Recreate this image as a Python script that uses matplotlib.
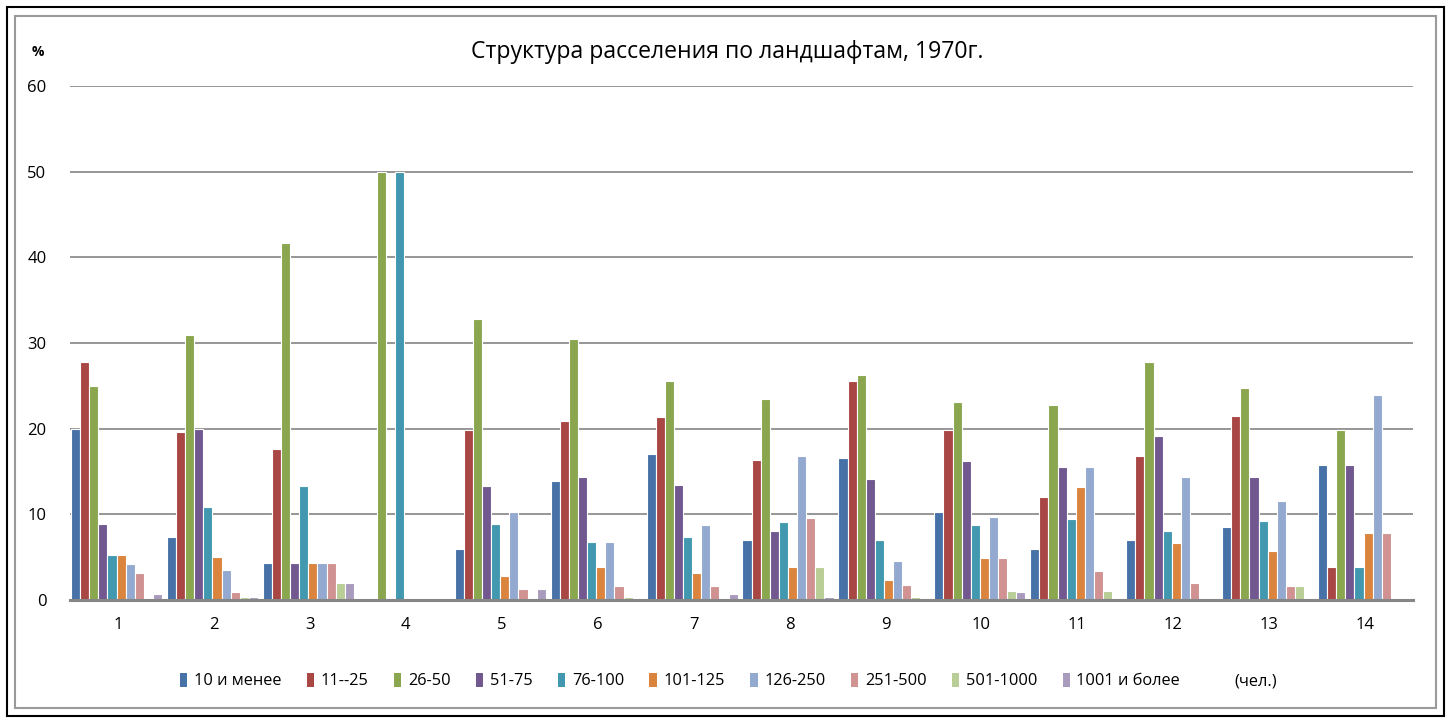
import matplotlib.pyplot as plt
import numpy as np
from matplotlib.patches import Rectangle, Patch

groups = [str(i) for i in range(1, 15)]
series_names = ['10 и менее', '11--25', '26-50', '51-75', '76-100', '101-125',
                '126-250', '251-500', '501-1000', '1001 и более']

s_10 = [20.0, 7.4, 4.3, 0, 5.9, 13.9, 17.1, 6.95, 16.6, 10.3, 5.9, 6.95, 8.55, 15.8]
s_11_25 = [27.8, 19.6, 17.6, 0, 19.9, 20.9, 21.4, 16.4, 25.6, 19.8, 12.0, 16.8, 21.5, 3.9]
s_26_50 = [25.0, 30.9, 41.7, 50, 32.8, 30.5, 25.6, 23.5, 26.3, 23.1, 22.8, 27.8, 24.7, 19.8]
s_51_75 = [8.9, 20.0, 4.3, 0, 13.3, 14.4, 13.4, 8.0, 14.1, 16.2, 15.5, 19.2, 14.4, 15.8]
s_76_100 = [5.2, 10.8, 13.3, 50, 8.9, 6.8, 7.3, 9.1, 6.95, 8.75, 9.45, 8.05, 9.25, 3.9]
s_101_125 = [5.2, 5.0, 4.3, 0, 2.8, 3.8, 3.2, 3.9, 2.3, 4.85, 13.2, 6.6, 5.7, 7.8]
s_126_250 = [4.2, 3.5, 4.3, 0, 10.3, 6.8, 8.75, 16.8, 4.6, 9.65, 15.5, 14.3, 11.6, 23.9]
s_251_500 = [3.1, 0.95, 4.3, 0, 1.3, 1.6, 1.6, 9.6, 1.8, 4.85, 3.4, 2.0, 1.6, 7.8]
s_501_1000 = [0, 0.4, 2.0, 0, 0, 0.4, 0, 3.9, 0.4, 1.1, 1.1, 0, 1.6, 0]
s_1001 = [0.75, 0.4, 2.0, 0, 1.3, 0, 0.75, 0.4, 0.2, 0.95, 0, 0, 0.2, 0]

all_series = [s_10, s_11_25, s_26_50, s_51_75, s_76_100, s_101_125,
              s_126_250, s_251_500, s_501_1000, s_1001]
colors = ['#4672a8', '#a94745', '#8aa64f', '#71588f', '#4198af', '#db843d',
          '#93a9cf', '#d09392', '#b9cd96', '#a99bbd']

plt.rcParams['font.family'] = ['Open Sans', 'DejaVu Sans']

fig = plt.figure(figsize=(14.46, 7.18), dpi=100)
ax = fig.add_axes([70 / 1446, 118 / 718, 1343 / 1446, 514 / 718])

x = np.arange(len(groups))
w = 0.095
for i, vals in enumerate(all_series):
    ax.bar(x - 4.5 * w + i * w - 0.015, vals, w, color=colors[i],
           edgecolor='white', linewidth=0.8, zorder=3, label=series_names[i])

ax.set_xlim(-0.5, len(groups) - 0.5)
ax.set_ylim(0, 60)
ax.set_yticks(range(0, 61, 10))
ax.set_xticks(x)
ax.set_xticklabels(groups)
ax.grid(axis='y', color='#8e8e8e', linewidth=1.3, zorder=0)
ax.tick_params(axis='both', length=0, labelsize=12)
ax.tick_params(axis='y', pad=17)
ax.tick_params(axis='x', pad=12)
for side in ['left', 'right', 'top']:
    ax.spines[side].set_visible(False)
ax.spines['bottom'].set_color('#868686')
ax.spines['bottom'].set_linewidth(2.2)
ax.spines['bottom'].set_zorder(4)

fig.text(727 / 1446, 1 - 52 / 718, 'Структура расселения по ландшафтам, 1970г.',
         ha='center', va='center', fontsize=16.6)
fig.text(38 / 1446, 1 - 52 / 718, '%', ha='center', va='center',
         fontsize=10, fontweight='bold')

handles = [Patch(facecolor=c, edgecolor='none') for c in colors]
leg = fig.legend(handles, series_names, loc='center', ncol=10,
                 bbox_to_anchor=(680 / 1446, 1 - 681 / 718), frameon=False,
                 fontsize=11.8, handlelength=0.45, handleheight=1.0,
                 handletextpad=0.4, columnspacing=1.55)
fig.text(1256 / 1446, 1 - 681 / 718, '(чел.)', ha='center', va='center', fontsize=11.8)

# chart frame
fig.patches.append(Rectangle((14.5 / 1446, 10 / 718), 1421 / 1446, 692 / 718,
                             transform=fig.transFigure, fill=False,
                             edgecolor='#9a9a9a', linewidth=1.5))
fig.patches.append(Rectangle((7 / 1446, 2 / 718), 1437 / 1446, 709 / 718,
                             transform=fig.transFigure, fill=False,
                             edgecolor='black', linewidth=1.5))

fig.savefig('out.png', dpi=100)
